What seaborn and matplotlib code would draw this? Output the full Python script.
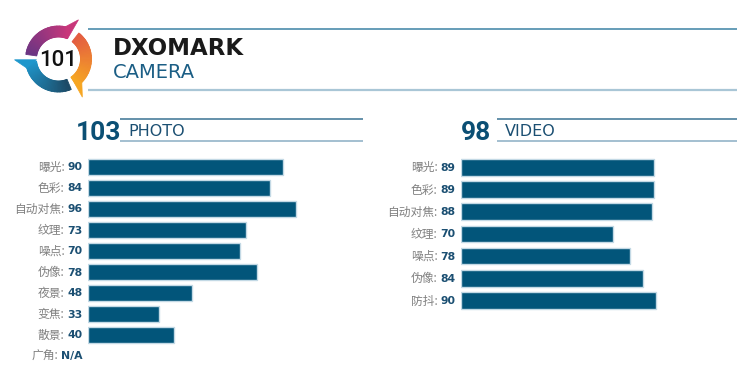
import numpy as np
import pandas as pd
import matplotlib
matplotlib.use("Agg")
import matplotlib.pyplot as plt
from matplotlib.patches import Wedge, Polygon
from matplotlib.colors import to_rgb
import seaborn as sns

# ===============================
# Data
# ===============================
camera_total = 101
photo_total = 103
video_total = 98

photo_labels = ["曝光", "色彩", "自动对焦", "纹理", "噪点", "伪像", "夜景", "变焦", "散景", "广角"]
photo_scores = [90, 84, 96, 73, 70, 78, 48, 33, 40, np.nan]

video_labels = ["曝光", "色彩", "自动对焦", "纹理", "噪点", "伪像", "防抖"]
video_scores = [89, 89, 88, 70, 78, 84, 90]

BAR = "#02557A"
EDGE = "#C3D9E5"
VAL = "#1B4F72"
GREY = "#808080"

sns.set_style("white")
plt.rcParams["font.family"] = ["Noto Sans CJK SC", "DejaVu Sans"]

W, H = 750, 378
fig = plt.figure(figsize=(W / 100, H / 100), dpi=100)

# decoration layer in pixel coords (y measured from top)
deco = fig.add_axes([0, 0, 1, 1], zorder=0)
deco.set_xlim(0, W)
deco.set_ylim(0, H)
deco.axis("off")


def Y(y):
    return H - y


def hline(x0, x1, y, color, lw=1.2):
    deco.plot([x0, x1], [Y(y), Y(y)], color=color, lw=lw, solid_capstyle="butt")


# ===============================
# Header: logo + DXOMARK CAMERA
# ===============================
hline(88, 737, 28.5, "#4C8CAC")
hline(88, 737, 90, "#A9C6D6", lw=1.6)

cx, cy = 58.5, Y(59)
r_out, ring = 33, 11


def arc(t_start, t_end, c1, c2, n=40):
    c1, c2 = np.array(to_rgb(c1)), np.array(to_rgb(c2))
    step = (t_end - t_start) / n
    for k in range(n):
        a0 = t_start + step * k
        col = c1 + (c2 - c1) * k / (n - 1)
        lo, hi = sorted([a0, a0 + step * 1.3])
        deco.add_patch(Wedge((cx, cy), r_out, lo, hi, width=ring,
                             facecolor=col, edgecolor=col, lw=0.6))


def tip(points, color):
    pts = [(cx + r * np.cos(np.radians(a)), cy + r * np.sin(np.radians(a))) for r, a in points]
    deco.add_patch(Polygon(pts, closed=True, facecolor=color, edgecolor=color, lw=0.5))


arc(172, 68, "#6A3583", "#C8367A")
tip([(22, 66), (44, 63), (33, 78)], "#C8367A")
arc(52, -55, "#E35B42", "#F6A623")
tip([(22, -55), (45, -58), (33, -45)], "#F6A623")
arc(186, 292, "#1E97CC", "#1D4A66")
tip([(22, 182), (44, 181), (33, 196)], "#1E97CC")
deco.text(cx, cy - 1, str(camera_total), ha="center", va="center", fontsize=16,
          family="Roboto", fontweight="medium", color="#111111")

deco.text(113, Y(55), "DXOMARK", ha="left", va="baseline", fontsize=16.5,
          family="DejaVu Sans", fontweight="heavy", color="#1A1A1A")
deco.text(113, Y(77.5), "CAMERA", ha="left", va="baseline", fontsize=14,
          family="DejaVu Sans", color="#1B5E85")

# ===============================
# Section headers
# ===============================
hline(120, 363, 119, "#4A7E9C")
hline(120, 363, 141, "#94B4C8")
deco.text(121, Y(140), str(photo_total), ha="right", va="baseline", fontsize=19,
          family="Roboto", fontweight="bold", color="#0B4F74")
deco.text(128, Y(135.5), "PHOTO", ha="left", va="baseline", fontsize=11.5,
          family="DejaVu Sans", color=VAL)

hline(497, 737, 119, "#4A7E9C")
hline(497, 737, 141, "#94B4C8")
deco.text(491, Y(140), str(video_total), ha="right", va="baseline", fontsize=19,
          family="Roboto", fontweight="bold", color="#0B4F74")
deco.text(505, Y(135.5), "VIDEO", ha="left", va="baseline", fontsize=11.5,
          family="DejaVu Sans", color=VAL)

# ===============================
# Bars
# ===============================
px_per_unit = 2.175


def bar_panel(labels, scores, x0, y_first, pitch, bar_frac):
    n = len(labels)
    top = y_first - pitch / 2
    ax = fig.add_axes([x0 / W, (H - (top + pitch * n)) / H,
                       100 * px_per_unit / W, pitch * n / H], zorder=2)
    ax.patch.set_alpha(0)
    df = pd.DataFrame({"label": labels, "score": scores})
    sns.barplot(data=df, x="score", y="label", order=labels, orient="h",
                color=BAR, edgecolor=EDGE, linewidth=1, width=bar_frac,
                saturation=1, ax=ax)
    ax.set_xlim(0, 100)
    ax.set_ylim(n - 0.5, -0.5)
    ax.axis("off")
    for i, (lab, s) in enumerate(zip(labels, scores)):
        txt = "N/A" if np.isnan(s) else f"{s:.0f}"
        v = ax.annotate(txt, xy=(0, i), xytext=(-5, -0.5), textcoords="offset pixels",
                        ha="right", va="center", fontsize=7.8, fontweight="bold",
                        family="DejaVu Sans", color=VAL)
        ax.annotate(lab + ":", xy=(0, 0.5), xycoords=v, xytext=(-3, 0),
                    textcoords="offset pixels", ha="right", va="center",
                    fontsize=8.5, color=GREY)
    return ax


bar_panel(photo_labels, photo_scores, 87.5, 167, 21, 0.74)
bar_panel(video_labels, video_scores, 460.7, 167.3, 22.2, 0.75)

fig.savefig("out.png", dpi=100)
